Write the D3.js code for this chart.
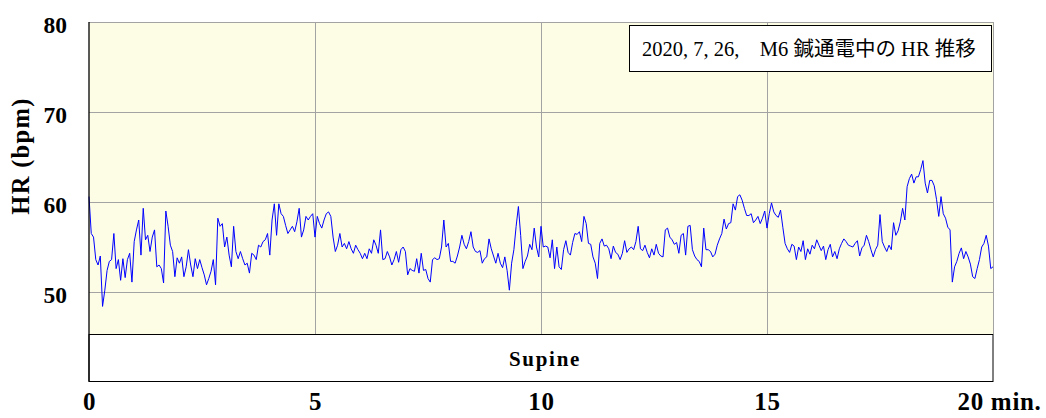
<!DOCTYPE html>
<html><head><meta charset="utf-8">
<script src="https://cdn.jsdelivr.net/npm/d3@7"></script>
<style>body{margin:0;background:#fff}</style>
</head><body><svg id="c" width="1046" height="418"></svg>
<script>
// Heart-rate samples, one every 0.05 min (3 s)
const hr = [
60.6,56.5,56.1,53.6,53.0,54.0,48.4,50.2,52.4,53.4,
53.6,56.5,52.6,53.6,51.3,53.7,51.6,53.6,54.3,51.1,
55.6,56.9,58.0,54.1,59.3,55.8,56.3,54.5,56.1,56.9,
52.8,53.0,52.6,51.0,59.0,57.3,55.2,54.5,51.7,53.8,
53.2,53.9,51.7,52.8,54.7,53.0,51.7,53.7,52.6,53.6,
52.7,51.9,50.8,51.5,52.3,53.6,50.8,58.2,57.3,57.6,
55.0,56.1,54.1,52.8,57.3,54.5,53.7,
54.5,53.7,53.0,53.2,52.1,54.3,54.1,53.6,55.2,55.0,
55.6,55.8,56.5,54.1,58.0,59.8,56.3,59.8,58.7,58.4,
57.4,56.5,56.9,57.3,56.7,57.8,59.3,56.1,56.9,58.4,
58.0,58.4,58.7,56.1,58.4,57.6,57.1,58.0,58.7,58.9,
58.4,56.1,54.5,55.2,56.5,55.0,55.4,54.8,55.6,54.8,
54.3,55.2,54.7,54.3,53.7,54.3,53.7,54.8,54.3,55.8,
55.2,54.3,56.9,53.6,53.7,54.5,53.9,
53.0,53.6,54.5,53.3,54.7,55.0,54.5,51.9,52.6,52.4,
52.3,53.7,52.1,54.3,52.4,52.5,51.5,51.1,53.6,53.8,
53.6,53.7,55.0,58.0,55.0,55.4,53.4,53.4,53.2,54.0,
55.0,56.3,55.3,54.8,55.6,56.7,55.0,54.5,54.4,54.6,
53.2,53.7,53.9,55.9,54.8,54.0,53.2,54.3,53.2,52.7,
53.9,52.4,50.2,53.2,54.7,57.3,59.5,56.3,52.6,53.4,
54.0,55.3,54.7,57.1,55.0,53.9,
57.3,55.0,55.1,55.0,53.8,55.8,52.6,55.0,52.8,52.5,
54.7,55.7,54.4,54.1,55.5,56.5,56.4,56.7,55.6,58.4,
57.6,55.4,55.3,53.9,53.2,51.5,55.4,55.9,55.1,55.2,
54.8,53.7,55.1,54.4,54.2,53.6,54.3,55.7,54.4,54.8,
55.0,54.7,55.6,57.3,54.8,54.6,55.2,54.4,53.8,54.8,
54.1,55.3,54.3,54.0,53.9,56.9,57.1,56.1,55.8,55.3,
55.5,54.3,56.3,56.5,54.1,57.3,
57.4,54.7,54.0,53.6,53.4,52.8,57.1,54.7,54.7,54.5,
53.9,54.2,55.2,55.9,56.5,58.1,57.0,57.6,57.7,59.8,
59.1,60.6,60.8,60.2,59.3,58.5,58.5,58.7,57.7,58.0,
58.4,57.6,58.2,59.0,57.1,58.7,59.9,58.9,58.5,58.3,
59.1,57.2,55.4,54.8,54.4,55.3,55.1,53.6,55.0,54.5,
55.7,53.6,54.8,54.2,55.2,54.8,55.8,55.2,54.6,55.1,
53.6,54.7,55.3,53.9,54.5,53.7,54.8,
55.4,55.9,55.6,55.2,55.1,55.0,55.4,55.7,54.0,54.9,
55.2,56.3,55.6,54.7,53.9,54.7,55.2,58.6,55.6,55.0,
54.5,55.2,54.7,57.7,56.3,56.8,57.8,59.3,58.0,61.7,
62.6,63.1,62.1,62.8,62.8,63.6,64.6,62.1,61.0,62.4,
62.4,61.8,60.3,58.4,60.6,58.7,58.2,57.2,56.9,51.1,
52.8,53.4,54.3,54.9,53.7,54.5,53.9,53.1,51.7,51.5,
52.6,53.6,55.0,55.4,56.3,55.1,52.6,52.8
];
const stepMin = 0.05;
const xTicks = [0, 5, 10, 15, 20];
const xTickLabels = ["0", "5", "10", "15", "20 min."];
const yTicks = [50, 60, 70, 80];
const titleText = "2020, 7, 26,\u3000M6 鍼通電中の HR 推移";
const yLabelText = "HR (bpm)";
const bandText = "Supine";

const serif = "Liberation Serif, serif";
function bold(sel, size, spacing) {
  sel.attr("font-family", serif).attr("font-weight", "bold").attr("font-size", size)
    .attr("fill", "#000").attr("letter-spacing", spacing || 0);
}
const svg = d3.select("#c");
const x = d3.scaleLinear().domain([0, 20]).range([89, 993]);
const y = d3.scaleLinear().domain([50, 80]).range([292, 22]);
const plotTop = y(80), plotBottom = 334, bandBottom = 381;
const W = x(20) - x(0);

// plot background
svg.append("rect").attr("x", x(0)).attr("y", plotTop)
  .attr("width", W).attr("height", plotBottom - plotTop).attr("fill", "#FDFDE6");

// horizontal grid + y tick labels
const gy = svg.append("g").attr("transform", `translate(${x(0)},0)`)
  .call(d3.axisLeft(y).tickValues(yTicks).tickSize(-W).tickPadding(22).tickFormat(d3.format("d")));
gy.select(".domain").remove();
gy.selectAll(".tick line").attr("stroke", "#a3a3a3");
gy.selectAll(".tick text").call(bold, 23.5, 0).attr("dy", "0.45em");

// vertical grid
const gx = svg.append("g").attr("transform", `translate(0,${plotBottom})`)
  .call(d3.axisBottom(x).tickValues(xTicks.slice(1)).tickSize(-(plotBottom - plotTop)).tickFormat(""));
gx.select(".domain").remove();
gx.selectAll(".tick line").attr("stroke", "#a3a3a3");

// HR line
const line = d3.line().x((d, i) => x(i * stepMin)).y(d => y(d));
svg.append("path").datum(hr).attr("d", line)
  .attr("fill", "none").attr("stroke", "#0000FF").attr("stroke-width", 1);

// posture band
svg.append("rect").attr("x", x(0)).attr("y", plotBottom + 0.5)
  .attr("width", W).attr("height", bandBottom - plotBottom)
  .attr("fill", "#fff").attr("stroke", "#000").attr("stroke-width", 1);
svg.append("text").attr("x", x(10) + 4).attr("y", 365.5).attr("text-anchor", "middle")
  .call(bold, 21, 1.7).text(bandText);

// left axis line
svg.append("line").attr("x1", x(0)).attr("x2", x(0)).attr("y1", plotTop).attr("y2", bandBottom + 0.5)
  .attr("stroke", "#000").attr("stroke-width", 1.3);

// x tick labels
const gxl = svg.append("g").attr("transform", `translate(0,${bandBottom})`)
  .call(d3.axisBottom(x).tickValues(xTicks).tickSize(0).tickPadding(11)
    .tickFormat((d, i) => xTickLabels[i]));
gxl.select(".domain").remove();
gxl.selectAll(".tick text").call(bold, 25, 0.7);
gxl.selectAll(".tick text").filter((d, i) => i === xTicks.length - 1)
  .attr("text-anchor", "start").attr("dx", -36);

// y axis label
svg.append("text").attr("transform", "translate(29,156) rotate(-90)").attr("text-anchor", "middle")
  .call(bold, 24.5, 1.3).text(yLabelText);

// title box
svg.append("rect").attr("x", 629.5).attr("y", 25.5).attr("width", 362).attr("height", 46)
  .attr("fill", "#fff").attr("stroke", "#000").attr("stroke-width", 1);
svg.append("text").attr("x", 642).attr("y", 56)
  .attr("font-family", "Liberation Serif, Noto Sans CJK JP, serif").attr("font-size", 20.5)
  .text(titleText);
</script></body></html>
